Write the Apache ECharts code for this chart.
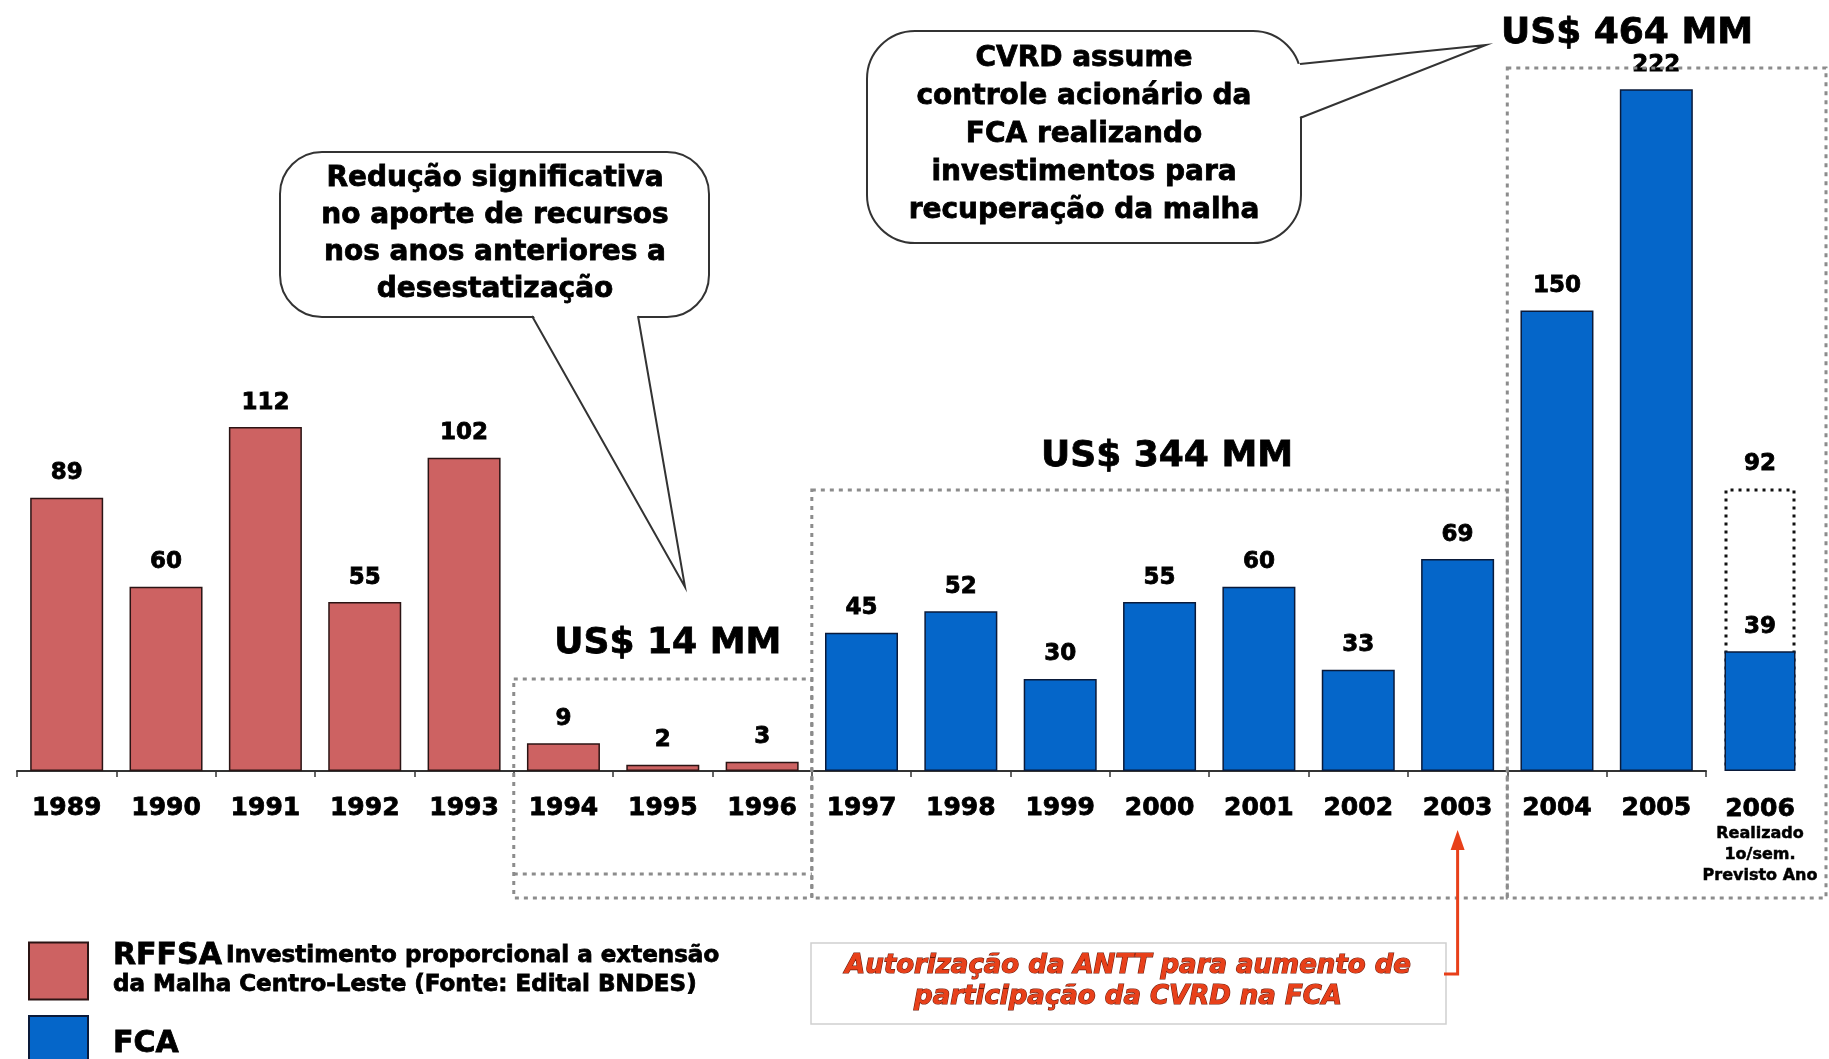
<!DOCTYPE html>
<html><head><meta charset="utf-8">
<script src="https://cdn.jsdelivr.net/npm/echarts@6/dist/echarts.min.js"></script>
<style>html,body{margin:0;padding:0;background:#fff}#c{width:1829px;height:1059px}</style>
</head><body><div id="c"></div>
<script>
// ---- data ----
const years = ['1989','1990','1991','1992','1993','1994','1995','1996','1997','1998','1999','2000','2001','2002','2003','2004','2005'];
const rffsa = [89, 60, 112, 55, 102, 9, 2, 3, null, null, null, null, null, null, null, null, null];
const fca   = [null, null, null, null, null, null, null, null, 45, 52, 30, 55, 60, 33, 69, 150, 222];
const year2006 = ['2006'];
const fca2006Realizado = [39];
const fca2006Previsto = [92];
const totals = ['US$ 14 MM', 'US$ 344 MM', 'US$ 464 MM'];

const FONT = "'DejaVu Sans', sans-serif";
const RED = '#CD6262', BLUE = '#0566C9';

const chart = echarts.init(document.getElementById('c'), null, {renderer: 'canvas'});

const heavy = {textBorderColor: '#000', textBorderWidth: 0.8};
const valueLabel = Object.assign({show: true, position: 'top', distance: 13, color: '#000',
  fontFamily: FONT, fontWeight: 'bold', fontSize: 23}, heavy);

const legendRich = {
  a: Object.assign({fontSize: 30, fontWeight: 'bold', fontFamily: FONT, color: '#000', lineHeight: 29}, heavy),
  b: Object.assign({fontSize: 23, fontWeight: 'bold', fontFamily: FONT, color: '#000', lineHeight: 29}, heavy)
};
function legendCfg(name, top) {
  return {
    data: [name], orient: 'vertical', left: 23, top: top,
    itemWidth: 59, itemHeight: 57, icon: 'rect', selectedMode: false,
    textStyle: {color: '#000', fontFamily: FONT, fontWeight: 'bold', padding: [0, 0, 0, 20], rich: legendRich},
    formatter: n => n === 'RFFSA'
      ? '{a|RFFSA} {b|Investimento proporcional a extensão}\n{b|da Malha Centro-Leste (Fonte: Edital BNDES)}'
      : '{a|FCA}'
  };
}

const option = {
  backgroundColor: '#fff',
  animation: false,
  grid: [
    {left: 17, right: 123, top: 34, bottom: 288},
    {left: 1710, right: 19, top: 34, bottom: 288}
  ],
  xAxis: [
    {gridIndex: 0, type: 'category', data: years,
      axisLine: {lineStyle: {color: '#333', width: 2}},
      axisTick: {show: true, length: 6, lineStyle: {color: '#333', width: 1.5}},
      axisLabel: Object.assign({margin: 25, color: '#000', fontFamily: FONT, fontWeight: 'bold', fontSize: 25}, heavy)},
    {gridIndex: 1, type: 'category', data: year2006,
      axisLine: {show: false}, axisTick: {show: false},
      axisLabel: {margin: 24, color: '#000', fontFamily: FONT, fontWeight: 'bold',
        formatter: v => '{y|' + v + '}\n{s|Realizado}\n{s|1o/sem.}\n{s|Previsto Ano}',
        rich: {
          y: Object.assign({fontSize: 25, fontWeight: 'bold', fontFamily: FONT, lineHeight: 28, color: '#000'}, heavy),
          s: Object.assign({fontSize: 16, fontWeight: 'bold', fontFamily: FONT, lineHeight: 21, color: '#000'}, {textBorderColor: '#000', textBorderWidth: 0.5})
        }}}
  ],
  yAxis: [
    {gridIndex: 0, type: 'value', min: 0, max: 240, show: false, splitLine: {show: false}},
    {gridIndex: 1, type: 'value', min: 0, max: 240, show: false, splitLine: {show: false}}
  ],
  legend: [legendCfg('RFFSA', 936), legendCfg('FCA', 1010)],
  series: [
    {name: 'RFFSA', type: 'bar', xAxisIndex: 0, yAxisIndex: 0, stack: 'all', barWidth: 73,
      data: rffsa, itemStyle: {color: RED, borderColor: '#2b1414', borderWidth: 1.5}, label: valueLabel},
    {name: 'FCA', type: 'bar', xAxisIndex: 0, yAxisIndex: 0, stack: 'all', barWidth: 73,
      data: fca, itemStyle: {color: BLUE, borderColor: '#0a1a3a', borderWidth: 1.5}, label: valueLabel},
    {name: 'FCA Previsto', type: 'bar', xAxisIndex: 1, yAxisIndex: 1, barWidth: 71, barGap: '-100%',
      data: fca2006Previsto,
      itemStyle: {color: 'rgba(0,0,0,0)', borderColor: '#111', borderWidth: 3, borderType: [3, 5]},
      label: valueLabel},
    {name: 'FCA', type: 'bar', xAxisIndex: 1, yAxisIndex: 1, barWidth: 71, barGap: '-100%',
      data: fca2006Realizado, itemStyle: {color: BLUE, borderColor: '#0a1a3a', borderWidth: 1.5},
      label: valueLabel}
  ]
};
chart.setOption(option);

// ---- annotation layout (boxes anchored to category bands) ----
const cx = i => chart.convertToPixel({xAxisIndex: 0}, i);
const hb = (cx(1) - cx(0)) / 2;
const boxStyle = {fill: 'none', stroke: '#8c8c8c', lineWidth: 3, lineDash: [4, 5]};
function box(x1, y1, x2, y2) {
  return {type: 'rect', z: 5, shape: {x: x1, y: y1, width: x2 - x1, height: y2 - y1}, style: boxStyle, silent: true};
}
const aL = cx(5) - hb, aR = cx(7) + hb;
const bL = cx(8) - hb, bR = cx(14) + hb;
const cL = cx(15) - hb, cR = 1826;

function txt(x, y, text, size, extra) {
  return {type: 'text', z: 20, x: x, y: y, silent: true,
    style: Object.assign({text: text, fontFamily: FONT, fontWeight: 'bold', fontSize: size, fill: '#000',
      stroke: '#000', lineWidth: 0.8,
      align: 'center', verticalAlign: 'middle', textAlign: 'center', textVerticalAlign: 'middle'}, extra || {})};
}
const bubbleStroke = {stroke: '#333', lineWidth: 2};
const graphics = [
  box(aL, 679, aR, 898),
  {type: 'line', z: 5, shape: {x1: aL, y1: 874, x2: aR, y2: 874}, style: boxStyle, silent: true},
  box(bL, 490, bR, 898),
  box(cL, 68, cR, 898),
  txt((aL + aR) / 2 + 5, 644, totals[0], 36),
  txt(1167, 457, totals[1], 36),
  txt(1627, 34, totals[2], 36),
  // bubble 1
  {type: 'rect', z: 30, shape: {x: 280, y: 152, width: 429, height: 165, r: 42}, style: Object.assign({fill: '#fff'}, bubbleStroke)},
  {type: 'polygon', z: 31, shape: {points: [[532, 313], [685, 587], [638, 313]]}, style: {fill: '#fff'}},
  {type: 'polyline', z: 32, shape: {points: [[532, 316], [685, 587], [638, 316]]}, style: {fill: 'none', stroke: '#333', lineWidth: 2}},
  Object.assign(txt(495, 234, 'Redução significativa\nno aporte de recursos\nnos anos anteriores a\ndesestatização', 28, {lineHeight: 37}), {z: 33}),
  // bubble 2
  {type: 'rect', z: 30, shape: {x: 867, y: 31, width: 434, height: 212, r: 48}, style: Object.assign({fill: '#fff'}, bubbleStroke)},
  {type: 'polygon', z: 31, shape: {points: [[1297, 64], [1486, 45], [1297, 118]]}, style: {fill: '#fff'}},
  {type: 'polyline', z: 32, shape: {points: [[1300, 64], [1486, 45], [1300, 118]]}, style: {fill: 'none', stroke: '#333', lineWidth: 2}},
  Object.assign(txt(1084, 135, 'CVRD assume\ncontrole acionário da\nFCA realizando\ninvestimentos para\nrecuperação da malha', 28, {lineHeight: 38}), {z: 33}),
  // ANTT note
  {type: 'rect', z: 10, shape: {x: 811, y: 943, width: 635, height: 81}, style: {fill: '#fff', stroke: '#d0d0d0', lineWidth: 1.5}},
  txt(1128, 982, 'Autorização da ANTT para aumento de\nparticipação da CVRD na FCA', 26,
    {fontStyle: 'italic', fill: '#E8401A', stroke: '#6e1a0a', lineWidth: 1.2, lineHeight: 31}),
  {type: 'polyline', z: 12, shape: {points: [[1444, 974], [cx(14), 974], [cx(14), 846]]}, style: {fill: 'none', stroke: '#E8401A', lineWidth: 3}},
  {type: 'polygon', z: 12, shape: {points: [[cx(14) - 7, 850], [cx(14), 830], [cx(14) + 7, 850]]}, style: {fill: '#E8401A'}}
];
chart.setOption({graphic: graphics});
</script>
</body></html>
